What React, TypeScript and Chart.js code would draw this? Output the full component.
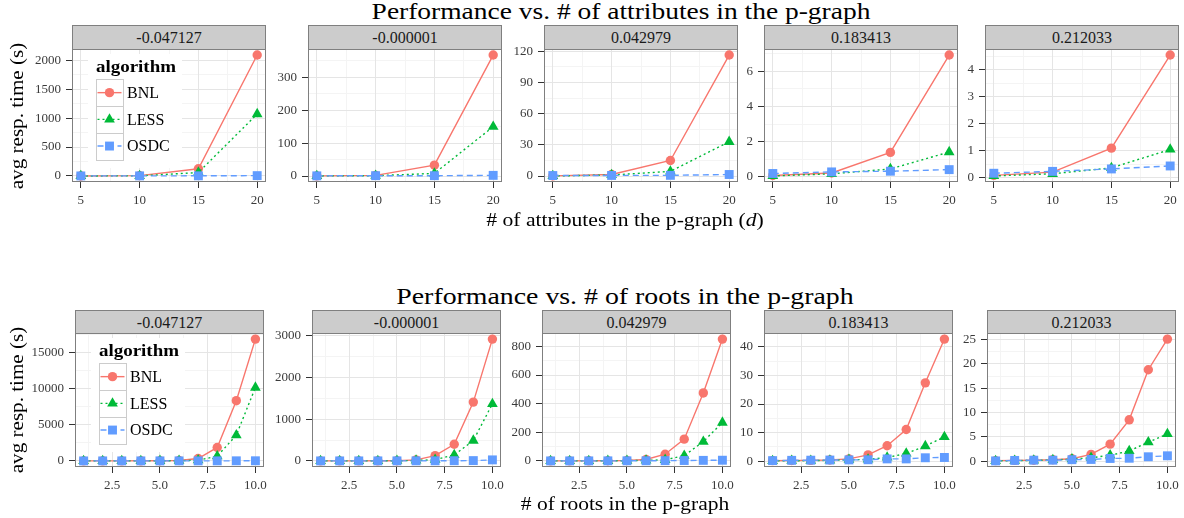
import React, { useEffect, useLayoutEffect, useRef } from "react";
import { Chart, registerables } from "chart.js";

Chart.register(...registerables);

// ---------------- data ----------------
const ALGORITHMS = ["BNL", "LESS", "OSDC"];
const FACETS = ["-0.047127", "-0.000001", "0.042979", "0.183413", "0.212033"];

// Row 1: number of attributes in the p-graph
const ATTR_X = [5, 10, 15, 20];
const ATTR_X_TICKS = [5, 10, 15, 20];
const ATTR_X_LABELS = ["5", "10", "15", "20"];
const ATTR_BNL = [
  [1, 6, 125, 2090],
  [0.3, 2, 33, 368],
  [0.2, 1.5, 15, 116.5],
  [0.08, 0.22, 1.39, 6.93],
  [0.08, 0.2, 1.09, 4.54],
];
const ATTR_LESS = [
  [0.5, 2, 60, 1070],
  [0.2, 1, 8, 150],
  [0.1, 1, 4.5, 33],
  [0.05, 0.17, 0.45, 1.41],
  [0.06, 0.14, 0.36, 1.04],
];
const ATTR_OSDC = [
  [1, 2, 3, 6],
  [0.5, 1, 1, 2],
  [0.5, 0.6, 0.7, 1.5],
  [0.19, 0.28, 0.32, 0.41],
  [0.16, 0.23, 0.32, 0.43],
];
const ATTR_Y_TICKS = [
  [0, 500, 1000, 1500, 2000],
  [0, 100, 200, 300],
  [0, 30, 60, 90, 120],
  [0, 2, 4, 6],
  [0, 1, 2, 3, 4],
];

// Row 2: number of roots in the p-graph
const ROOTS_X = [1, 2, 3, 4, 5, 6, 7, 8, 9, 10];
const ROOTS_X_TICKS = [2.5, 5, 7.5, 10];
const ROOTS_X_LABELS = ["2.5", "5.0", "7.5", "10.0"];
const ROOTS_BNL = [
  [5, 8, 10, 15, 25, 60, 330, 1860, 8330, 16850],
  [1, 1.5, 2, 3, 6, 25, 128, 400, 1410, 2920],
  [0.3, 0.5, 0.8, 1.5, 3, 10, 47, 152, 475, 851],
  [0.2, 0.25, 0.3, 0.4, 0.8, 2.2, 5.4, 11.1, 27.4, 42.7],
  [0.1, 0.15, 0.2, 0.3, 0.5, 1.4, 3.5, 8.5, 18.8, 25.1],
];
const ROOTS_LESS = [
  [3, 5, 6, 10, 15, 30, 100, 650, 3570, 10150],
  [0.5, 1, 1.5, 2, 4, 10, 30, 144, 488, 1368],
  [0.2, 0.3, 0.5, 1, 2, 4, 8, 37, 135, 268],
  [0.1, 0.15, 0.2, 0.3, 0.5, 0.6, 1.3, 2.7, 5.3, 8.5],
  [0.05, 0.1, 0.15, 0.25, 0.4, 0.7, 1.2, 2.1, 3.9, 5.6],
];
const ROOTS_OSDC = [
  [2, 3, 3, 4, 5, 6, 8, 10, 15, 20],
  [0.5, 0.6, 0.8, 1, 1.5, 2, 3, 5, 8, 25],
  [0.2, 0.3, 0.4, 0.6, 0.8, 1, 2, 3, 4, 5],
  [0.2, 0.3, 0.35, 0.4, 0.45, 0.5, 0.8, 0.8, 1.2, 1.3],
  [0.05, 0.15, 0.2, 0.2, 0.3, 0.35, 0.55, 0.6, 0.9, 1.1],
];
const ROOTS_Y_TICKS = [
  [0, 5000, 10000, 15000],
  [0, 1000, 2000, 3000],
  [0, 200, 400, 600, 800],
  [0, 10, 20, 30, 40],
  [0, 5, 10, 15, 20, 25],
];

// ---------------- styles / layout ----------------
const SERIF = "'Liberation Serif', 'Times New Roman', serif";
const COLORS = ["#F8766D", "#00BA38", "#619CFF"];
const POINT_STYLES = ["circle", "triangle", "rect"];
const POINT_RADII = [4.7, 6.2, 6.3];
const DASHES: number[][] = [[], [2, 3], [6, 4]];
const LINE_W = 1.4;
const MAJOR_GRID = "#E5E5E5";
const MINOR_GRID = "#F4F4F4";
const BORDER = "#7F7F7F";
const TICK_TEXT = "#3A3A3A";
const TICK_MARK = "#333333";

const YW = 48; // y axis area width
const XH = 30; // x axis area height
const PT = 8; // canvas padding above plot
const PR = 16; // canvas padding right of plot

const ROW_TOP = { stripTop: 25, plotTop: 49, plotH: 133, lefts: [72, 308, 544, 764, 985], width: 194 };
const ROW_BOTTOM = { stripTop: 310, plotTop: 333, plotH: 134, lefts: [75, 312, 542, 764, 987], width: 189 };

function minorsOf(majors: number[], min: number, max: number) {
  const step = majors[1] - majors[0];
  const out: number[] = [];
  for (let v = majors[0] - step * 10 - step / 2; v <= max; v += step) {
    if (v >= min) out.push(v);
  }
  return out;
}

function drawMarker(ctx: CanvasRenderingContext2D, style: string, x: number, y: number, r: number) {
  ctx.beginPath();
  if (style === "circle") {
    ctx.arc(x, y, r, 0, Math.PI * 2);
  } else if (style === "triangle") {
    const w = r * Math.sin(Math.PI / 3);
    ctx.moveTo(x, y - r);
    ctx.lineTo(x + w, y + r / 2);
    ctx.lineTo(x - w, y + r / 2);
    ctx.closePath();
  } else {
    const s = r * Math.SQRT1_2;
    ctx.rect(x - s, y - s, 2 * s, 2 * s);
  }
  ctx.fill();
}

function drawLegend(ctx: CanvasRenderingContext2D, a: { left: number; top: number }) {
  const L = a.left;
  const T = a.top;
  ctx.save();
  ctx.fillStyle = "#ffffff";
  ctx.fillRect(L + 16, T + 5, 94, 114);
  // title
  ctx.fillStyle = "#000000";
  ctx.font = `bold 16px ${SERIF}`;
  ctx.textBaseline = "alphabetic";
  ctx.textAlign = "left";
  const tw = ctx.measureText("algorithm").width;
  ctx.save();
  ctx.translate(L + 24, T + 22.7);
  ctx.scale(80 / tw, 1);
  ctx.fillText("algorithm", 0, 0);
  ctx.restore();
  const kx = L + 23.5;
  const kw = 27;
  const kh = 26.7;
  ALGORITHMS.forEach((name, k) => {
    const ky = T + 30.3 + k * kh;
    const cy = ky + kh / 2;
    ctx.strokeStyle = "#CCCCCC";
    ctx.lineWidth = 1;
    ctx.setLineDash([]);
    ctx.strokeRect(Math.round(kx) + 0.5, Math.round(ky) + 0.5, kw, Math.round(kh));
    ctx.strokeStyle = COLORS[k];
    ctx.lineWidth = LINE_W;
    ctx.setLineDash(DASHES[k]);
    ctx.beginPath();
    ctx.moveTo(kx + 2, cy);
    ctx.lineTo(kx + kw - 1, cy);
    ctx.stroke();
    ctx.setLineDash([]);
    ctx.fillStyle = COLORS[k];
    drawMarker(ctx, POINT_STYLES[k], kx + kw / 2 + 0.5, cy, POINT_RADII[k]);
    ctx.fillStyle = "#000000";
    ctx.font = `16px ${SERIF}`;
    ctx.textBaseline = "middle";
    ctx.fillText(name, L + 55, cy + 1);
  });
  ctx.restore();
}

type PanelProps = {
  xs: number[];
  series: number[][];
  xTicks: number[];
  xLabels: string[];
  yTicks: number[];
  left: number;
  top: number;
  w: number;
  h: number;
  legend: boolean;
};

function Panel(p: PanelProps) {
  const ref = useRef<HTMLCanvasElement>(null);
  const cw = YW + p.w + PR;
  const ch = PT + p.h + XH;
  useEffect(() => {
    const canvas = ref.current;
    if (!canvas) return;
    const all = p.series.flat();
    const lo = Math.min(...all);
    const hi = Math.max(...all);
    const yPad = (hi - lo) * 0.05;
    const xlo = Math.min(...p.xs);
    const xhi = Math.max(...p.xs);
    const xPad = (xhi - xlo) * 0.05;
    const xMin = xlo - xPad;
    const xMax = xhi + xPad;
    const yMin = lo - yPad;
    const yMax = hi + yPad;
    const xMinor = minorsOf(p.xTicks, xMin, xMax);
    const yMinor = minorsOf(p.yTicks, yMin, yMax);

    const decor = {
      id: "decor",
      beforeDraw(chart: any) {
        const { ctx, chartArea: a, scales } = chart;
        ctx.save();
        ctx.strokeStyle = MINOR_GRID;
        ctx.lineWidth = 1;
        ctx.beginPath();
        xMinor.forEach((v) => {
          const px = Math.round(scales.x.getPixelForValue(v) - 0.5) + 0.5;
          ctx.moveTo(px, a.top);
          ctx.lineTo(px, a.bottom);
        });
        yMinor.forEach((v) => {
          const py = Math.round(scales.y.getPixelForValue(v) - 0.5) + 0.5;
          ctx.moveTo(a.left, py);
          ctx.lineTo(a.right, py);
        });
        ctx.stroke();
        ctx.restore();
      },
      afterDraw(chart: any) {
        const { ctx, chartArea: a } = chart;
        if (p.legend) drawLegend(ctx, a);
        ctx.save();
        ctx.strokeStyle = BORDER;
        ctx.lineWidth = 1;
        ctx.setLineDash([]);
        ctx.strokeRect(a.left + 0.5, a.top + 0.5, a.right - a.left - 1, a.bottom - a.top - 1);
        ctx.restore();
      },
    };

    const datasets = ALGORITHMS.map((name, k) => ({
      label: name,
      data: p.xs.map((x, j) => ({ x, y: p.series[k][j] })),
      borderColor: COLORS[k],
      backgroundColor: COLORS[k],
      borderWidth: LINE_W,
      borderDash: DASHES[k],
      pointStyle: POINT_STYLES[k],
      pointRadius: POINT_RADII[k],
      pointHoverRadius: POINT_RADII[k],
      pointBorderWidth: 0,
      pointBackgroundColor: COLORS[k],
      tension: 0,
      fill: false,
      clip: false,
      order: 2 - k,
    }));

    const tickFont = { family: SERIF, size: 13 };
    const chart = new Chart(canvas, {
      type: "line",
      data: { datasets } as any,
      options: {
        animation: false,
        responsive: false,
        maintainAspectRatio: false,
        events: [],
        layout: { padding: { left: 0, top: PT, right: PR, bottom: 0 } },
        plugins: { legend: { display: false }, tooltip: { enabled: false } },
        scales: {
          x: {
            type: "linear",
            min: xMin,
            max: xMax,
            bounds: "data",
            afterBuildTicks: (s: any) => {
              s.ticks = p.xTicks.map((v) => ({ value: v }));
            },
            afterFit: (s: any) => {
              s.height = XH;
              s.paddingLeft = 0;
              s.paddingRight = 0;
            },
            ticks: {
              autoSkip: false,
              maxRotation: 0,
              minRotation: 0,
              padding: 5,
              color: TICK_TEXT,
              font: tickFont,
              callback: (_v: any, i: number) => p.xLabels[i],
            },
            grid: { color: MAJOR_GRID, lineWidth: 1, drawTicks: true, tickLength: 6, tickColor: TICK_MARK, tickWidth: 1 },
            border: { display: false },
          },
          y: {
            type: "linear",
            min: yMin,
            max: yMax,
            bounds: "data",
            afterBuildTicks: (s: any) => {
              s.ticks = p.yTicks.map((v) => ({ value: v }));
            },
            afterFit: (s: any) => {
              s.width = YW;
              s.paddingTop = 0;
              s.paddingBottom = 0;
            },
            ticks: {
              autoSkip: false,
              padding: 5,
              color: TICK_TEXT,
              font: tickFont,
              callback: (_v: any, i: number) => String(p.yTicks[i]),
            },
            grid: { color: MAJOR_GRID, lineWidth: 1, drawTicks: true, tickLength: 6, tickColor: TICK_MARK, tickWidth: 1 },
            border: { display: false },
          },
        },
      } as any,
      plugins: [decor],
    });
    return () => chart.destroy();
  }, []);

  return (
    <canvas
      ref={ref}
      width={cw}
      height={ch}
      style={{ position: "absolute", left: p.left - YW, top: p.top - PT, width: cw, height: ch }}
    />
  );
}

function FitText(props: {
  cx: number;
  cy: number;
  size: number;
  width: number;
  rotate?: boolean;
  children: React.ReactNode;
}) {
  const ref = useRef<HTMLDivElement>(null);
  useLayoutEffect(() => {
    const el = ref.current;
    if (!el) return;
    const natural = el.offsetWidth || 1;
    const k = props.width / natural;
    el.style.transform = `translate(-50%, -50%)${props.rotate ? " rotate(-90deg)" : ""} scaleX(${k})`;
  }, []);
  return (
    <div
      ref={ref}
      style={{
        position: "absolute",
        left: props.cx,
        top: props.cy,
        fontFamily: SERIF,
        fontSize: props.size,
        lineHeight: 1,
        whiteSpace: "nowrap",
        color: "#000",
        transform: `translate(-50%, -50%)${props.rotate ? " rotate(-90deg)" : ""}`,
      }}
    >
      {props.children}
    </div>
  );
}

function Strip(props: { left: number; top: number; w: number; h: number; label: string }) {
  const fs = 16;
  return (
    <div
      style={{
        position: "absolute",
        left: props.left,
        top: props.top,
        width: props.w,
        height: props.h,
        boxSizing: "border-box",
        border: `1px solid ${BORDER}`,
        background: "#CCCCCC",
      }}
    >
      <div
        style={{
          position: "absolute",
          left: 0,
          width: "100%",
          top: 18.5 - 0.8375 * fs - 1,
          textAlign: "center",
          fontFamily: SERIF,
          fontSize: fs,
          lineHeight: 1,
          color: "#1A1A1A",
          whiteSpace: "nowrap",
        }}
      >
        {props.label}
      </div>
    </div>
  );
}

function Row(props: {
  row: typeof ROW_TOP;
  xs: number[];
  bnl: number[][];
  less: number[][];
  osdc: number[][];
  xTicks: number[];
  xLabels: string[];
  yTicks: number[][];
}) {
  const r = props.row;
  return (
    <>
      {FACETS.map((f, i) => (
        <React.Fragment key={f}>
          <Panel
            xs={props.xs}
            series={[props.bnl[i], props.less[i], props.osdc[i]]}
            xTicks={props.xTicks}
            xLabels={props.xLabels}
            yTicks={props.yTicks[i]}
            left={r.lefts[i]}
            top={r.plotTop}
            w={r.width}
            h={r.plotH}
            legend={i === 0}
          />
          <Strip left={r.lefts[i]} top={r.stripTop} w={r.width} h={r.plotTop - r.stripTop + 1} label={f} />
        </React.Fragment>
      ))}
    </>
  );
}

export default function App() {
  const titleSize = 23.5;
  const axisSize = 18.5;
  const c = (baseline: number, size: number) => baseline - 0.3375 * size;
  return (
    <div style={{ position: "absolute", left: 0, top: 0, width: 1184, height: 518, background: "#fff", overflow: "hidden" }}>
      <Row
        row={ROW_TOP}
        xs={ATTR_X}
        bnl={ATTR_BNL}
        less={ATTR_LESS}
        osdc={ATTR_OSDC}
        xTicks={ATTR_X_TICKS}
        xLabels={ATTR_X_LABELS}
        yTicks={ATTR_Y_TICKS}
      />
      <Row
        row={ROW_BOTTOM}
        xs={ROOTS_X}
        bnl={ROOTS_BNL}
        less={ROOTS_LESS}
        osdc={ROOTS_OSDC}
        xTicks={ROOTS_X_TICKS}
        xLabels={ROOTS_X_LABELS}
        yTicks={ROOTS_Y_TICKS}
      />
      <FitText cx={620.5} cy={c(20, titleSize)} size={titleSize} width={499}>
        Performance vs. # of attributes in the p-graph
      </FitText>
      <FitText cx={625.3} cy={c(226.5, axisSize)} size={axisSize} width={277}>
        # of attributes in the p-graph (<i>d</i>)
      </FitText>
      <FitText cx={17} cy={115.5} size={axisSize} width={146} rotate>
        avg resp. time (s)
      </FitText>
      <FitText cx={624.7} cy={c(305, titleSize)} size={titleSize} width={457}>
        Performance vs. # of roots in the p-graph
      </FitText>
      <FitText cx={625.2} cy={c(510, axisSize)} size={axisSize} width={208}>
        # of roots in the p-graph
      </FitText>
      <FitText cx={17} cy={400} size={axisSize} width={146} rotate>
        avg resp. time (s)
      </FitText>
    </div>
  );
}
